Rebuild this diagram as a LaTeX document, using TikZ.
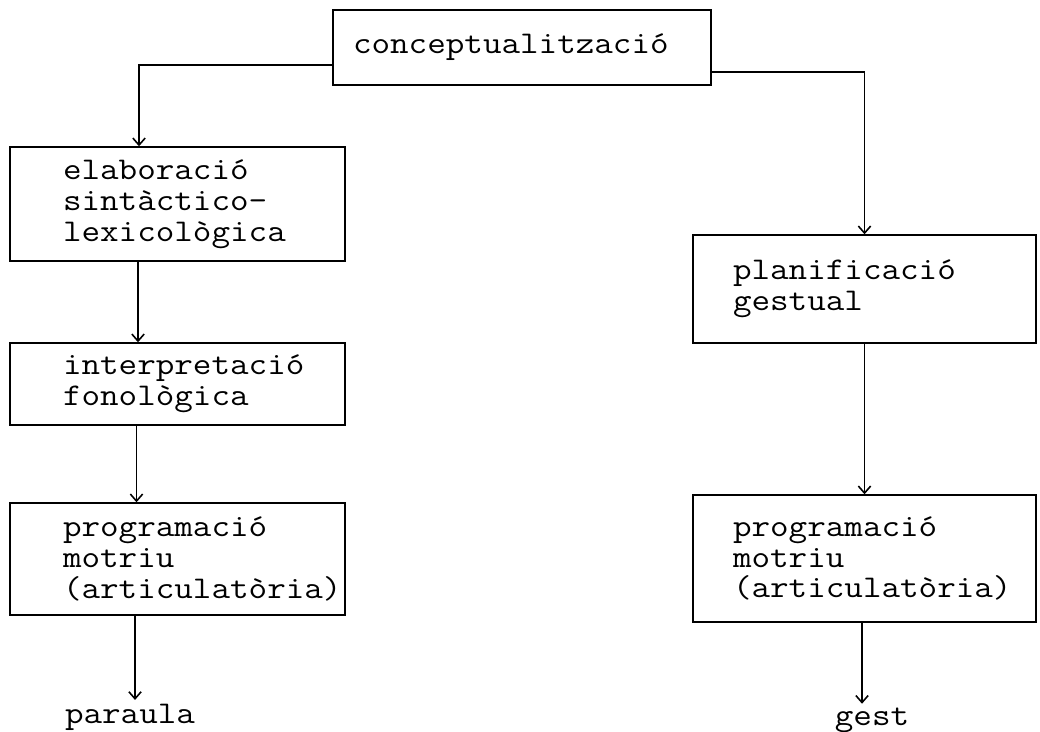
\documentclass[tikz,border=0pt]{standalone}
\usepackage{fontspec}
\usetikzlibrary{arrows.meta}
\newfontfamily\stagemono[FakeStretch=1.14]{Latin Modern Mono}
\newcommand{\boxfont}{\stagemono\fontsize{18}{17.6}\selectfont}
\tikzset{
  stage/.style={draw, line width=0.8pt, align=left, font=\boxfont, inner ysep=0pt},
  leftstage/.style={stage, text width=4.58cm, inner xsep=1.06cm, minimum height=#1},
  rightstage/.style={stage, text width=5.26cm, inner xsep=0.8cm, minimum height=#1},
  flow/.style={line width=0.9pt, -{Straight Barb[length=4pt,width=7pt]}},
  outcome/.style={font=\boxfont, inner sep=2pt}
}

\begin{document}
\begin{tikzpicture}[x=0.02cm, y=-0.02cm]
  \useasboundingbox (0,0) rectangle (1040,732);

  \node[stage, text width=6.76cm, inner xsep=0.4cm, minimum height=1.5cm] (concept) at (522,47.5) {conceptualització};

  % left branch
  \node[leftstage=2.28cm] (elab) at (177.5,204) {elaboració\\sintàctico-\\lexicològica};
  \node[leftstage=1.64cm] (interp) at (177.5,384) {interpretació\\fonològica};
  \node[leftstage=2.24cm] (progL) at (177.5,559) {programació\\motriu\\(articulatòria)};
  \node[outcome] (paraula) at (130,717) {paraula};

  % right branch
  \node[rightstage=2.16cm] (plan) at (864.5,289) {planificació\\gestual};
  \node[rightstage=2.54cm] (progR) at (864.5,558.5) {programació\\motriu\\(articulatòria)};
  \node[outcome] (gest) at (872,720) {gest};

  \draw[flow] ([yshift=-0.35cm]concept.west) -| ([xshift=-0.77cm]elab.north);
  \draw[flow] ([xshift=-0.79cm]elab.south) -- ([xshift=-0.79cm]interp.north);
  \draw[flow] ([xshift=-0.82cm]interp.south) -- ([xshift=-0.82cm]progL.north);
  \draw[flow] ([xshift=-0.85cm]progL.south) -- ([xshift=-0.85cm]progL.south |- paraula.north);

  \draw[flow] ([yshift=-0.49cm]concept.east) -| (plan.north);
  \draw[flow] (plan.south) -- (progR.north);
  \draw[flow] ([xshift=-0.05cm]progR.south) -- ([xshift=-0.05cm]progR.south |- gest.north);
\end{tikzpicture}
\end{document}
